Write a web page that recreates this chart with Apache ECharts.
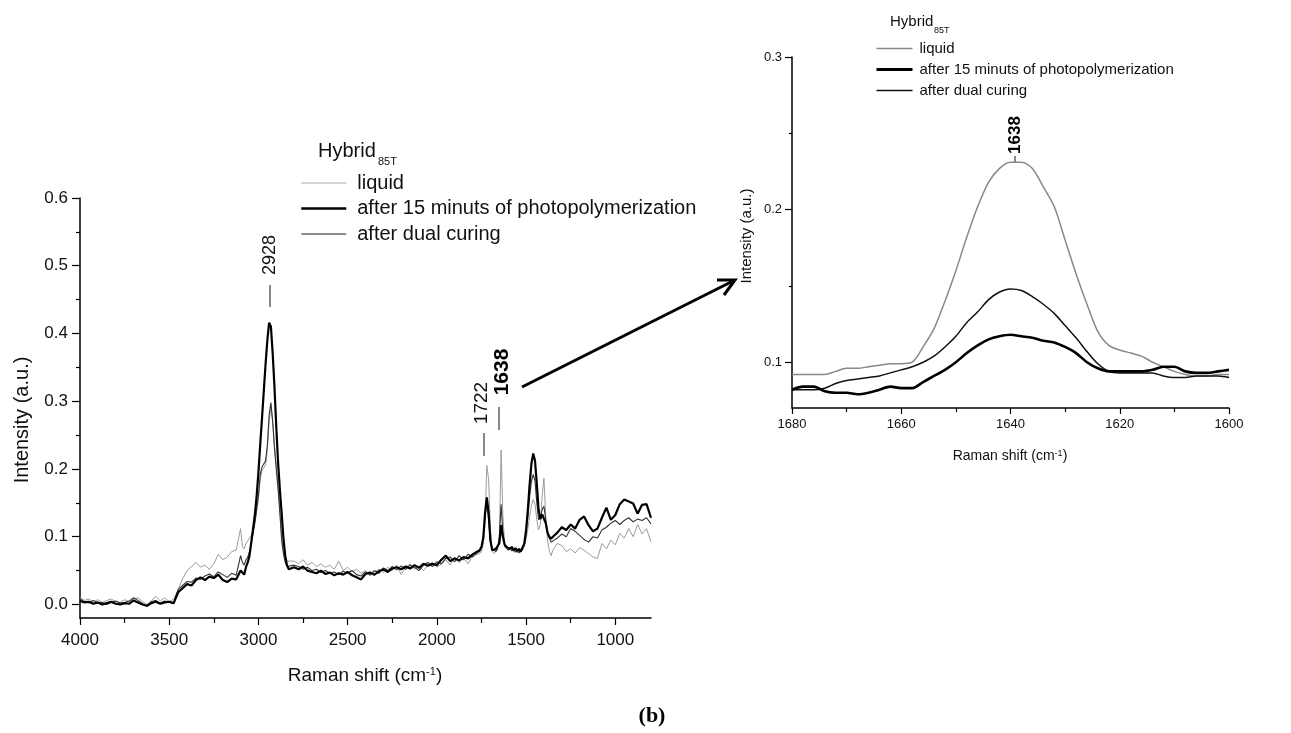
<!DOCTYPE html>
<html>
<head>
<meta charset="utf-8">
<title>Raman spectra Hybrid85T</title>
<script src="https://cdn.jsdelivr.net/npm/echarts@6/dist/echarts.min.js"></script>
<style>
  html, body { margin: 0; padding: 0; background: #fff; }
  #chart { width: 1291px; height: 733px; }
</style>
</head>
<body>
<div id="chart"></div>
<script>
// ---- main spectrum (4000 - 800 cm-1) ----
const shift = [
  4000, 3975, 3950, 3925, 3900, 3875, 3850, 3825, 3800, 3775, 3750, 3725, 3700, 3675, 3650, 3625, 3600, 3575, 3550, 3525, 3500, 3475, 3450, 3425, 3400, 3375, 3350, 3325, 3300, 3275, 3250, 3225, 3200, 3175, 3150, 3125, 3100,
  3090, 3080, 3070, 3060, 3050, 3040, 3030, 3020, 3010, 3000, 2990, 2980, 2970, 2960, 2950, 2940, 2930, 2920, 2910, 2900, 2890, 2880, 2870, 2860, 2850, 2840, 2830,
  2800, 2775, 2750, 2725, 2700, 2675, 2650, 2625, 2600, 2575, 2550, 2525, 2500, 2475, 2450, 2425, 2400, 2375, 2350, 2325, 2300, 2275, 2250, 2225, 2200, 2175, 2150, 2125, 2100, 2075, 2050, 2025, 2000, 1975, 1950, 1925, 1900, 1875, 1850, 1825, 1800, 1775,
  1760, 1750, 1740, 1730, 1720, 1710, 1700, 1690, 1680, 1670, 1660, 1650, 1640, 1630, 1620, 1610, 1600, 1590, 1580, 1570, 1560, 1550, 1540, 1530, 1520, 1510, 1500, 1490, 1480, 1470, 1460, 1450, 1440, 1430, 1420, 1410, 1400, 1390, 1380, 1370, 1360,
  1350, 1325, 1300, 1275, 1250, 1225, 1200, 1175, 1150, 1125, 1100, 1075, 1050, 1025, 1000, 975, 950, 925, 900, 875, 850, 825, 800
]

const liquid = [
  0.010, 0.006, 0.008, 0.004, 0.007, 0.003, 0.006, 0.008, 0.004, 0.003, 0.007, 0.004, 0.008, 0.010, 0.004, 0.000, 0.006, 0.012, 0.005, 0.010, 0.004, 0.008, 0.022, 0.038, 0.050, 0.056, 0.062, 0.055, 0.058, 0.052, 0.060, 0.074, 0.066, 0.070, 0.078, 0.080, 0.112,
  0.085, 0.082, 0.090, 0.094, 0.096, 0.102, 0.110, 0.122, 0.138, 0.158, 0.185, 0.198, 0.200, 0.206, 0.230, 0.270, 0.290, 0.268, 0.235, 0.205, 0.175, 0.142, 0.100, 0.080, 0.068, 0.064, 0.066,
  0.064, 0.060, 0.066, 0.058, 0.062, 0.056, 0.060, 0.055, 0.058, 0.052, 0.064, 0.050, 0.055, 0.048, 0.052, 0.046, 0.050, 0.042, 0.048, 0.052, 0.047, 0.055, 0.050, 0.058, 0.044, 0.055, 0.060, 0.052, 0.057, 0.050, 0.058, 0.062, 0.055, 0.060, 0.066, 0.058, 0.070, 0.062, 0.068, 0.060, 0.072, 0.074,
  0.075, 0.078, 0.090, 0.120, 0.205, 0.185, 0.110, 0.078, 0.075, 0.078, 0.080, 0.095, 0.228, 0.130, 0.090, 0.086, 0.082, 0.080, 0.084, 0.078, 0.082, 0.076, 0.080, 0.077, 0.080, 0.086, 0.096, 0.112, 0.130, 0.146, 0.155, 0.148, 0.125, 0.110, 0.118, 0.160, 0.186, 0.130, 0.095, 0.080, 0.072,
  0.080, 0.090, 0.087, 0.078, 0.082, 0.076, 0.084, 0.080, 0.075, 0.070, 0.068, 0.090, 0.082, 0.095, 0.088, 0.105, 0.098, 0.112, 0.100, 0.118, 0.104, 0.112, 0.092
]

const photo = [
  0.005, 0.003, 0.004, 0.001, 0.003, 0.000, 0.002, 0.004, 0.001, 0.000, 0.002, 0.001, 0.006, 0.003, 0.000, -0.002, 0.002, 0.004, 0.001, 0.003, 0.004, 0.002, 0.018, 0.024, 0.030, 0.028, 0.036, 0.040, 0.036, 0.041, 0.039, 0.044, 0.036, 0.033, 0.038, 0.037, 0.050,
  0.048, 0.044, 0.055, 0.062, 0.072, 0.092, 0.112, 0.133, 0.160, 0.195, 0.236, 0.275, 0.315, 0.355, 0.390, 0.416, 0.410, 0.370, 0.320, 0.262, 0.210, 0.170, 0.135, 0.098, 0.072, 0.058, 0.052,
  0.055, 0.052, 0.056, 0.050, 0.048, 0.046, 0.050, 0.045, 0.047, 0.043, 0.046, 0.044, 0.048, 0.043, 0.040, 0.037, 0.045, 0.047, 0.044, 0.049, 0.052, 0.048, 0.053, 0.055, 0.052, 0.056, 0.053, 0.058, 0.054, 0.060, 0.057, 0.060, 0.058, 0.066, 0.072, 0.064, 0.068, 0.065, 0.070, 0.068, 0.074, 0.078,
  0.080, 0.085, 0.098, 0.135, 0.158, 0.135, 0.095, 0.080, 0.078, 0.082, 0.080, 0.090, 0.117, 0.100, 0.088, 0.085, 0.086, 0.082, 0.085, 0.080, 0.083, 0.079, 0.082, 0.078, 0.080, 0.090, 0.110, 0.140, 0.178, 0.208, 0.223, 0.212, 0.178, 0.140, 0.126, 0.133, 0.134, 0.120, 0.106, 0.100, 0.097,
  0.100, 0.106, 0.114, 0.110, 0.118, 0.112, 0.125, 0.130, 0.117, 0.108, 0.112, 0.128, 0.143, 0.125, 0.132, 0.148, 0.155, 0.152, 0.149, 0.134, 0.147, 0.148, 0.128
]

const dual = [
  0.008, 0.004, 0.002, 0.006, 0.002, 0.003, 0.000, 0.003, 0.005, 0.002, 0.003, 0.005, 0.010, 0.006, 0.001, -0.003, 0.004, 0.006, 0.002, 0.005, 0.003, 0.001, 0.022, 0.028, 0.034, 0.033, 0.039, 0.037, 0.042, 0.045, 0.041, 0.048, 0.044, 0.040, 0.046, 0.043, 0.072,
  0.062, 0.058, 0.066, 0.070, 0.078, 0.090, 0.105, 0.120, 0.140, 0.160, 0.192, 0.203, 0.205, 0.212, 0.235, 0.280, 0.298, 0.270, 0.230, 0.200, 0.170, 0.135, 0.095, 0.075, 0.062, 0.056, 0.055,
  0.058, 0.056, 0.052, 0.055, 0.050, 0.052, 0.047, 0.050, 0.046, 0.048, 0.044, 0.049, 0.046, 0.050, 0.044, 0.042, 0.048, 0.044, 0.050, 0.046, 0.054, 0.050, 0.056, 0.051, 0.057, 0.052, 0.058, 0.055, 0.050, 0.058, 0.062, 0.056, 0.063, 0.060, 0.068, 0.070, 0.063, 0.072, 0.066, 0.074, 0.070, 0.076,
  0.078, 0.084, 0.100, 0.130, 0.150, 0.125, 0.092, 0.082, 0.080, 0.078, 0.082, 0.100, 0.148, 0.105, 0.086, 0.083, 0.080, 0.084, 0.079, 0.082, 0.077, 0.081, 0.076, 0.079, 0.078, 0.088, 0.105, 0.130, 0.160, 0.182, 0.192, 0.182, 0.150, 0.125, 0.128, 0.140, 0.145, 0.125, 0.108, 0.098, 0.092,
  0.094, 0.098, 0.104, 0.100, 0.112, 0.108, 0.102, 0.096, 0.092, 0.100, 0.098, 0.110, 0.114, 0.120, 0.124, 0.118, 0.124, 0.128, 0.122, 0.126, 0.124, 0.128, 0.119
]

// ---- zoom on the 1638 band (1680 - 1600 cm-1) ----
const zoomShift = [
  1680, 1678, 1676, 1674, 1672, 1670, 1668, 1666, 1664, 1662, 1660, 1658, 1656, 1654, 1652, 1650, 1648, 1646, 1644, 1642, 1640,
  1638, 1636, 1634, 1632, 1630, 1628, 1626, 1624, 1622, 1620, 1618, 1616, 1614, 1612, 1610, 1608, 1606, 1604, 1602, 1600
]
const zoomLiquid = [
  0.092, 0.092, 0.092, 0.092, 0.094, 0.096, 0.096, 0.097, 0.098, 0.099, 0.099, 0.100, 0.110, 0.122, 0.140, 0.160, 0.182, 0.202, 0.218, 0.227, 0.231,
  0.231, 0.227, 0.215, 0.202, 0.180, 0.158, 0.138, 0.120, 0.111, 0.108, 0.106, 0.104, 0.100, 0.097, 0.094, 0.092, 0.091, 0.091, 0.092, 0.092
]
const zoomPhoto = [
  0.082, 0.084, 0.084, 0.081, 0.080, 0.080, 0.079, 0.080, 0.082, 0.084, 0.083, 0.083, 0.087, 0.091, 0.095, 0.100, 0.106, 0.111, 0.115, 0.117, 0.118,
  0.117, 0.116, 0.114, 0.113, 0.110, 0.106, 0.100, 0.096, 0.094, 0.094, 0.094, 0.094, 0.095, 0.097, 0.097, 0.094, 0.093, 0.093, 0.094, 0.095
]
const zoomDual = [
  0.082, 0.082, 0.082, 0.083, 0.086, 0.088, 0.089, 0.090, 0.091, 0.093, 0.095, 0.097, 0.100, 0.104, 0.110, 0.117, 0.126, 0.133, 0.141, 0.146, 0.148,
  0.147, 0.143, 0.138, 0.132, 0.124, 0.116, 0.107, 0.099, 0.094, 0.093, 0.093, 0.093, 0.093, 0.091, 0.090, 0.090, 0.091, 0.091, 0.091, 0.090
]

// tick positions
const mainXTicks = [1000, 1500, 2000, 2500, 3000, 3500, 4000]
const mainXMinor = [1250, 1750, 2250, 2750, 3250, 3750]
const mainYTicks = [0, 0.1, 0.2, 0.3, 0.4, 0.5, 0.6]
const mainYMinor = [0.05, 0.15, 0.25, 0.35, 0.45, 0.55]
const zoomXTicks = [1600, 1620, 1640, 1660, 1680]
const zoomXMinor = [1610, 1630, 1650, 1670]
const zoomYTicks = [0.1, 0.2, 0.3]
const zoomYMinor = [0.15, 0.25]

const names = ['liquid', 'after 15 minuts of photopolymerization', 'after dual curing']
const FONT = '"Liberation Sans", Arial, sans-serif'

const pairs = (xs, ys) => xs.map((x, i) => [x, ys[i]])

const axisLine = { show: true, onZero: false, lineStyle: { color: '#000', width: 1.5 } }

function xAxes(grid, min, max, ticks, minor, fontSize, margin, tickLen) {
  return [
    {
      gridIndex: grid, type: 'value', position: 'bottom', min: min, max: max, inverse: true,
      axisLine: axisLine,
      axisTick: { customValues: ticks, length: tickLen, lineStyle: { color: '#000', width: 1.2 } },
      axisLabel: {
        customValues: ticks, fontSize: fontSize, color: '#111', fontFamily: FONT, margin: margin,
        formatter: v => String(v)
      },
      splitLine: { show: false }
    },
    {
      gridIndex: grid, type: 'value', position: 'bottom', min: min, max: max, inverse: true,
      axisLine: { show: false, onZero: false },
      axisTick: { customValues: minor, length: tickLen - 2, lineStyle: { color: '#000', width: 1.2 } },
      axisLabel: { show: false },
      splitLine: { show: false }
    }
  ]
}

function yAxes(grid, min, max, ticks, minor, fontSize, margin, tickLen) {
  return [
    {
      gridIndex: grid, type: 'value', position: 'left', min: min, max: max,
      axisLine: axisLine,
      axisTick: { customValues: ticks, length: tickLen, lineStyle: { color: '#000', width: 1.2 } },
      axisLabel: {
        customValues: ticks, fontSize: fontSize, color: '#111', fontFamily: FONT, margin: margin,
        formatter: v => v.toFixed(1)
      },
      splitLine: { show: false }
    },
    {
      gridIndex: grid, type: 'value', position: 'left', min: min, max: max,
      axisLine: { show: false, onZero: false },
      axisTick: { customValues: minor, length: tickLen - 4, lineStyle: { color: '#000', width: 1.2 } },
      axisLabel: { show: false },
      splitLine: { show: false }
    }
  ]
}

function line(name, data, axis, color, width, smooth) {
  return {
    name: name, type: 'line', data: data,
    xAxisIndex: axis, yAxisIndex: axis,
    symbol: 'none', smooth: smooth,
    lineStyle: { color: color, width: width },
    itemStyle: { color: color },
    silent: true
  }
}

const option = {
  animation: false,
  backgroundColor: '#fff',
  grid: [
    { left: 80, top: 198, width: 571, height: 420 },
    { left: 792, top: 57, width: 437, height: 351 }
  ],
  xAxis: [].concat(
    xAxes(0, 800, 4000, mainXTicks, mainXMinor, 17, 14, 7),
    xAxes(1, 1600, 1680, zoomXTicks, zoomXMinor, 13, 10, 6)
  ),
  yAxis: [].concat(
    yAxes(0, -0.02, 0.6, mainYTicks, mainYMinor, 17, 12, 8),
    yAxes(1, 0.07, 0.3, zoomYTicks, zoomYMinor, 13, 10, 7)
  ),
  legend: [
    {
      left: 300, top: 173, padding: 0, orient: 'vertical', selectedMode: false,
      itemWidth: 45, itemHeight: 12, itemGap: 5.5,
      itemStyle: { opacity: 0 },
      textStyle: { fontSize: 20, lineHeight: 20, color: '#111', fontFamily: FONT, padding: [0, 0, 0, 6] },
      data: [
        { name: names[0], lineStyle: { color: '#aaa', width: 1 } },
        { name: names[1], lineStyle: { color: '#000', width: 2.5 } },
        { name: names[2], lineStyle: { color: '#666', width: 1.5 } }
      ]
    },
    {
      left: 875, top: 41, padding: 0, orient: 'vertical', selectedMode: false,
      itemWidth: 36, itemHeight: 10, itemGap: 6,
      itemStyle: { opacity: 0 },
      textStyle: { fontSize: 15, lineHeight: 15, color: '#111', fontFamily: FONT, padding: [0, 0, 0, 2] },
      data: [
        { name: names[0], lineStyle: { color: '#888', width: 1.5 } },
        { name: names[1], lineStyle: { color: '#000', width: 3 } },
        { name: names[2], lineStyle: { color: '#111', width: 1.5 } }
      ]
    }
  ],
  series: [
    line(names[0], pairs(shift, liquid), 0, '#9c9c9c', 1, false),
    line(names[2], pairs(shift, dual), 0, '#333', 1.1, false),
    line(names[1], pairs(shift, photo), 0, '#000', 2.2, false),
    line(names[0], pairs(zoomShift, zoomLiquid), 2, '#888', 1.5, 0.3),
    line(names[2], pairs(zoomShift, zoomDual), 2, '#111', 1.5, 0.3),
    line(names[1], pairs(zoomShift, zoomPhoto), 2, '#000', 2.6, 0.3)
  ],
  graphic: [
    // axis titles
    { type: 'text', x: 22, y: 420, rotation: Math.PI / 2,
      style: { text: 'Intensity (a.u.)', fill: '#111', font: '20px ' + FONT, align: 'center', verticalAlign: 'middle' } },
    { type: 'text', x: 365, y: 676,
      style: { text: '{a|Raman shift (cm}{s|-1}{a|)}', fill: '#111', align: 'center', verticalAlign: 'middle',
        rich: { a: { fontSize: 19, fontFamily: FONT, fill: '#111' }, s: { fontSize: 11, fontFamily: FONT, verticalAlign: 'top', fill: '#111' } } } },
    { type: 'text', x: 747, y: 236, rotation: Math.PI / 2,
      style: { text: 'Intensity (a.u.)', fill: '#111', font: '15px ' + FONT, align: 'center', verticalAlign: 'middle' } },
    { type: 'text', x: 1010, y: 456,
      style: { text: '{a|Raman shift (cm}{s|-1}{a|)}', fill: '#111', align: 'center', verticalAlign: 'middle',
        rich: { a: { fontSize: 14, fontFamily: FONT, fill: '#111' }, s: { fontSize: 9, fontFamily: FONT, verticalAlign: 'top', fill: '#111' } } } },
    // legend headings
    { type: 'text', x: 318, y: 151, style: { text: 'Hybrid', fill: '#111', font: '20px ' + FONT, verticalAlign: 'middle' } },
    { type: 'text', x: 378, y: 162, style: { text: '85T', fill: '#111', font: '11px ' + FONT, verticalAlign: 'middle' } },
    { type: 'text', x: 890, y: 22, style: { text: 'Hybrid', fill: '#111', font: '15px ' + FONT, verticalAlign: 'middle' } },
    { type: 'text', x: 934, y: 31, style: { text: '85T', fill: '#111', font: '9px ' + FONT, verticalAlign: 'middle' } },
    // peak labels
    { type: 'text', x: 270, y: 255, rotation: Math.PI / 2,
      style: { text: '2928', fill: '#111', font: '18px ' + FONT, align: 'center', verticalAlign: 'middle' } },
    { type: 'line', shape: { x1: 270, y1: 285, x2: 270, y2: 307 }, style: { stroke: '#111', lineWidth: 1 } },
    { type: 'text', x: 482, y: 403, rotation: Math.PI / 2,
      style: { text: '1722', fill: '#111', font: '19px ' + FONT, align: 'center', verticalAlign: 'middle' } },
    { type: 'line', shape: { x1: 484, y1: 433, x2: 484, y2: 456 }, style: { stroke: '#111', lineWidth: 1 } },
    { type: 'text', x: 502, y: 372, rotation: Math.PI / 2,
      style: { text: '1638', fill: '#000', font: 'bold 21px ' + FONT, align: 'center', verticalAlign: 'middle' } },
    { type: 'line', shape: { x1: 499, y1: 407, x2: 499, y2: 430 }, style: { stroke: '#111', lineWidth: 1 } },
    { type: 'text', x: 1015, y: 135, rotation: Math.PI / 2,
      style: { text: '1638', fill: '#000', font: 'bold 17px ' + FONT, align: 'center', verticalAlign: 'middle' } },
    { type: 'line', shape: { x1: 1015, y1: 156, x2: 1015, y2: 162 }, style: { stroke: '#111', lineWidth: 1 } },
    // arrow to the zoom panel
    { type: 'line', shape: { x1: 522, y1: 387, x2: 733, y2: 281 }, style: { stroke: '#000', lineWidth: 3 } },
    { type: 'polyline', shape: { points: [[717, 280], [735, 280], [724, 295]] },
      style: { stroke: '#000', lineWidth: 3, fill: null } },
    // panel caption
    { type: 'text', x: 652, y: 716,
      style: { text: '(b)', fill: '#000', font: 'bold 22px "Liberation Serif", "Times New Roman", serif', align: 'center', verticalAlign: 'middle' } }
  ]
}

const chart = echarts.init(document.getElementById('chart'), null, { renderer: 'canvas' })
chart.setOption(option)
</script>
</body>
</html>
